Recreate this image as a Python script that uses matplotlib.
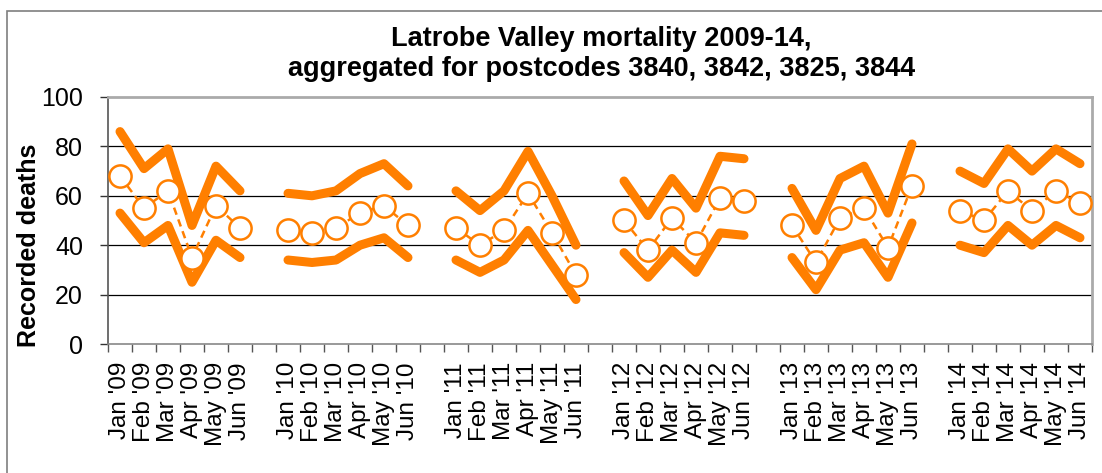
# -*- coding: utf-8 -*-
"""
Latrobe Valley mortality 2009-14 (Excel style line chart)
"""
import numpy as np
import matplotlib
matplotlib.use('Agg')
import matplotlib.pyplot as plt
from matplotlib.patches import Rectangle

plt.rcParams['font.family'] = ['Liberation Sans', 'DejaVu Sans']

years = ["'09", "'10", "'11", "'12", "'13", "'14"]
months = ['Jan', 'Feb', 'Mar', 'Apr', 'May', 'Jun']

# recorded deaths (middle) and upper / lower band, Jan-Jun each year
deaths = [
    [68, 55, 62, 35, 56, 47],
    [46, 45, 47, 53, 56, 48],
    [47, 40, 46, 61, 45, 28],
    [50, 38, 51, 41, 59, 58],
    [48, 33, 51, 55, 39, 64],
    [54, 50, 62, 54, 62, 57],
]
upper = [
    [86, 71, 79, 48, 72, 62],
    [61, 60, 62, 69, 73, 64],
    [62, 54, 62, 78, 60, 40],
    [66, 52, 67, 55, 76, 75],
    [63, 46, 67, 72, 53, 81],
    [70, 65, 79, 70, 79, 73],
]
lower = [
    [53, 41, 48, 25, 42, 35],
    [34, 33, 34, 40, 43, 35],
    [34, 29, 34, 46, 32, 18],
    [37, 27, 38, 29, 45, 44],
    [35, 22, 38, 41, 27, 49],
    [40, 37, 48, 40, 48, 43],
]

orange = '#ff7f00'

fig = plt.figure(figsize=(11.02, 4.73), dpi=100)
ax = fig.add_axes([108 / 1102, 1 - 344 / 473, 984 / 1102, 247 / 473])

# outer chart border (only left/top visible in the crop)
fig.patches.append(Rectangle((7 / 1102, -0.1), 1.2, 1 - 11 / 473 + 0.1,
                             transform=fig.transFigure, fill=False,
                             edgecolor='#7f7f7f', linewidth=1.2))

labels = []
for g, yr in enumerate(years):
    x = np.arange(6) + g * 7
    ax.plot(x, upper[g], color=orange, lw=6.5, solid_capstyle='round',
            solid_joinstyle='round', zorder=3)
    ax.plot(x, lower[g], color=orange, lw=6.5, solid_capstyle='round',
            solid_joinstyle='round', zorder=3)
    ax.plot(x, deaths[g], color=orange, lw=1.8, ls=(0, (3, 2)), marker='o',
            ms=16, mfc='white', mec=orange, mew=1.8, zorder=4)
    labels += [m + ' ' + yr for m in months]
    if g < len(years) - 1:
        labels.append('')

n = len(labels)
ax.set_xlim(-0.5, n - 0.5)
ax.set_ylim(0, 100)
ax.set_yticks(range(0, 101, 20))
ax.tick_params(axis='y', labelsize=18, length=6, width=1, pad=12, color='#333333')
ax.set_xticks(np.arange(n))
ax.set_xticklabels(labels, rotation=90, fontsize=17.5)
ax.set_xticks(np.arange(n + 1) - 0.5, minor=True)
ax.tick_params(axis='x', which='major', length=0, pad=13)
ax.tick_params(axis='x', which='minor', length=6, width=1, color='#555555')

for yv in [20, 40, 60, 80]:
    ax.axhline(yv, color='black', lw=0.9, zorder=1)

ax.spines['left'].set_color('#555555')
ax.spines['left'].set_linewidth(1.2)
ax.spines['bottom'].set_color('#888888')
ax.spines['bottom'].set_linewidth(1.2)
for s in ['top', 'right']:
    ax.spines[s].set_color('#aaaaaa')
    ax.spines[s].set_linewidth(2)

fig.text(29 / 1102, 1 - 245 / 473, 'Recorded deaths', rotation=90,
         ha='center', va='center', fontsize=18, fontweight='bold')
fig.text(0.546, 1 - 54 / 473, 'Latrobe Valley mortality 2009-14,\naggregated for postcodes 3840, 3842, 3825, 3844',
         ha='center', va='center', fontsize=19.5, fontweight='bold', linespacing=1.2)

fig.savefig('out.png', dpi=100)
